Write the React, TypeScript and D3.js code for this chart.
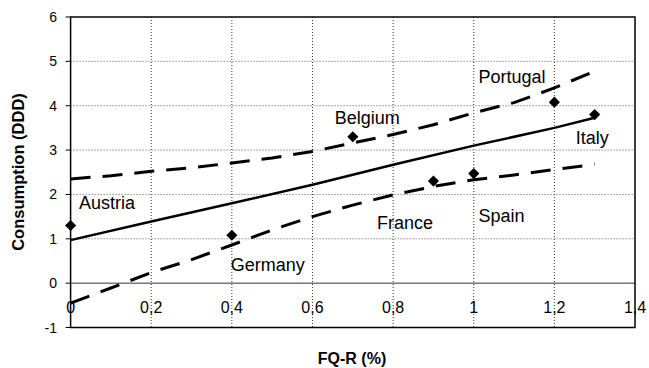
import React from "react";
import * as d3 from "d3";

const countries = ["Austria", "Germany", "Belgium", "France", "Spain", "Portugal", "Italy"];
const fqr = [0, 0.4, 0.7, 0.9, 1.0, 1.2, 1.3];
const consumption = [1.3, 1.08, 3.3, 2.3, 2.47, 4.08, 3.8];

// label anchor (left edge, vertical centre) in data units
const labelX = [0.021, 0.397, 0.655, 0.76, 1.012, 1.012, 1.253];
const labelY = [1.81, 0.41, 3.72, 1.36, 1.51, 4.65, 3.29];

const regX = [0, 0.2, 0.4, 0.6, 0.8, 1.0, 1.2, 1.3];
const regY = [0.97, 1.39, 1.8, 2.22, 2.67, 3.1, 3.5, 3.73];

const bandX = [0, 0.1, 0.2, 0.3, 0.4, 0.5, 0.6, 0.7, 0.8, 0.9, 1.0, 1.1, 1.2, 1.3];
const upperY = [2.35, 2.42, 2.52, 2.6, 2.71, 2.82, 2.97, 3.16, 3.35, 3.57, 3.84, 4.07, 4.4, 4.78];
const lowerY = [-0.45, -0.11, 0.24, 0.53, 0.86, 1.2, 1.5, 1.76, 1.99, 2.18, 2.33, 2.44, 2.56, 2.68];

const xTicks = [0, 0.2, 0.4, 0.6, 0.8, 1, 1.2, 1.4];
const xTickLabels = ["0", "0,2", "0,4", "0,6", "0,8", "1", "1,2", "1,4"];
const yTicks = [-1, 0, 1, 2, 3, 4, 5, 6];

const W = 649;
const H = 368;

export default function App() {
  const x = d3.scaleLinear().domain([0, 1.4]).range([70.6, 635]);
  const y = d3.scaleLinear().domain([-1, 6]).range([327.5, 17]);
  const font = "'Liberation Sans', Arial, sans-serif";

  const line = d3
    .line<[number, number]>()
    .x((d) => x(d[0]))
    .y((d) => y(d[1]));

  const regPath = line(regX.map((v, i) => [v, regY[i]]) as [number, number][]) || "";
  const upPath = line(bandX.map((v, i) => [v, upperY[i]]) as [number, number][]) || "";
  const loPath = line(bandX.map((v, i) => [v, lowerY[i]]) as [number, number][]) || "";

  const diamond = d3.symbol().type(d3.symbolSquare).size(62)() || "";

  const [x0, x1] = x.range();
  const [yb, yt] = y.range();

  return (
    <svg
      width={W}
      height={H}
      style={{ position: "absolute", left: 0, top: 0, background: "#fff" }}
      fontFamily={font}
    >
      <rect x={0} y={0} width={W} height={H} fill="#fff" />
      {/* horizontal grid */}
      {yTicks
        .filter((t) => t !== 0 && t !== 6 && t !== -1)
        .map((t) => (
          <line
            key={"hg" + t}
            x1={x0}
            x2={x1}
            y1={y(t)}
            y2={y(t)}
            stroke="#555"
            strokeWidth={1}
            strokeDasharray="1,2"
          />
        ))}
      {/* vertical grid */}
      {xTicks
        .filter((t) => t !== 0 && t !== 1.4)
        .map((t) => (
          <line
            key={"vg" + t}
            x1={x(t)}
            x2={x(t)}
            y1={yt}
            y2={yb}
            stroke="#333"
            strokeWidth={1}
            strokeDasharray="1,2"
          />
        ))}
      {/* zero line */}
      <line x1={x0} x2={x1} y1={y(0)} y2={y(0)} stroke="#777" strokeWidth={1.5} />
      {/* plot border */}
      <rect
        x={x0}
        y={yt}
        width={x1 - x0}
        height={yb - yt}
        fill="none"
        stroke="#000"
        strokeWidth={1.5}
      />
      {/* y ticks */}
      {yTicks.map((t) => (
        <g key={"yt" + t}>
          <line x1={x0 - 5} x2={x0} y1={y(t)} y2={y(t)} stroke="#000" strokeWidth={1} />
          <text x={57} y={y(t)} dy="0.36em" textAnchor="end" fontSize={14} fill="#000">
            {t}
          </text>
        </g>
      ))}
      {/* x tick labels */}
      {xTicks.map((t, i) => (
        <text
          key={"xt" + t}
          x={x(t)}
          y={313}
          textAnchor="middle"
          fontSize={16}
          fill="#000"
        >
          {xTickLabels[i]}
        </text>
      ))}
      {/* bands and regression */}
      <path d={upPath} fill="none" stroke="#000" strokeWidth={3} strokeDasharray="20,12" />
      <path d={loPath} fill="none" stroke="#000" strokeWidth={3} strokeDasharray="20,12" />
      <path d={regPath} fill="none" stroke="#000" strokeWidth={2.5} />
      {/* points */}
      {fqr.map((v, i) => (
        <path
          key={"pt" + i}
          d={diamond}
          transform={`translate(${x(v)},${y(consumption[i])}) rotate(45)`}
          fill="#000"
        />
      ))}
      {/* country labels */}
      {countries.map((c, i) => (
        <text
          key={"lb" + c}
          x={x(labelX[i])}
          y={y(labelY[i])}
          dy="0.35em"
          fontSize={18}
          fill="#000"
        >
          {c}
        </text>
      ))}
      {/* axis titles */}
      <text
        transform={`translate(24,${172}) rotate(-90)`}
        textAnchor="middle"
        fontSize={16.5}
        fontWeight="bold"
        fill="#000"
      >
        Consumption (DDD)
      </text>
      <text x={352} y={364} textAnchor="middle" fontSize={16} fontWeight="bold" fill="#000">
        FQ-R (%)
      </text>
    </svg>
  );
}
